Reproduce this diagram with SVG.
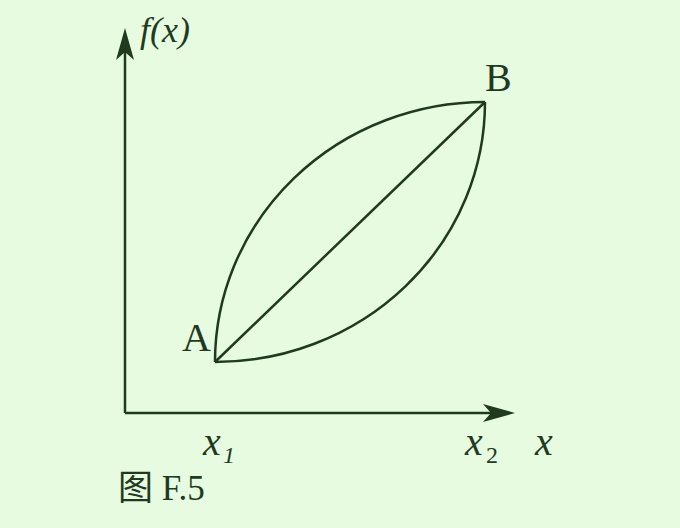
<svg xmlns="http://www.w3.org/2000/svg" width="680" height="528" viewBox="0 0 680 528">
<style>
.ln{stroke:#1f3a1f;stroke-width:2.5;fill:none}
.t{font-family:'Liberation Serif','Times New Roman',serif;fill:#1f3a1f}
.i{font-style:italic}
</style>
<rect width="680" height="528" fill="#e6fbe0"/>
<g id="connectors">
<path class="ln" d="M125,413 V40 M125,413 H505"/>
<path d="M125,28 L134,60 L125,52 L116,60 Z" fill="#1f3a1f"/>
<path d="M515,413 L483,404 L491,413 L483,422 Z" fill="#1f3a1f"/>
</g>
<g id="curves">
<path class="ln" d="M215,362 A270,260 0 0 1 485,102"/>
<path class="ln" d="M215,362 A270,260 0 0 0 485,102"/>
<path class="ln" d="M215,362 L485,102"/>
</g>
<g id="labels">
<text class="t i" x="140" y="42" font-size="36">f(x)</text>
<text class="t" x="485" y="91" font-size="40">B</text>
<text class="t" x="182" y="351" font-size="40">A</text>
<text class="t i" x="203" y="455" font-size="40">x</text>
<text class="t i" x="223" y="463" font-size="24">1</text>
<text class="t i" x="465" y="455" font-size="40">x</text>
<text class="t" x="486" y="463" font-size="24">2</text>
<text class="t i" x="535" y="455" font-size="40">x</text>
<text x="118" y="500" font-size="35" fill="#1f3a1f" font-family="'Liberation Serif','Noto Sans CJK SC',serif">图 F.5</text>
</g>
</svg>
